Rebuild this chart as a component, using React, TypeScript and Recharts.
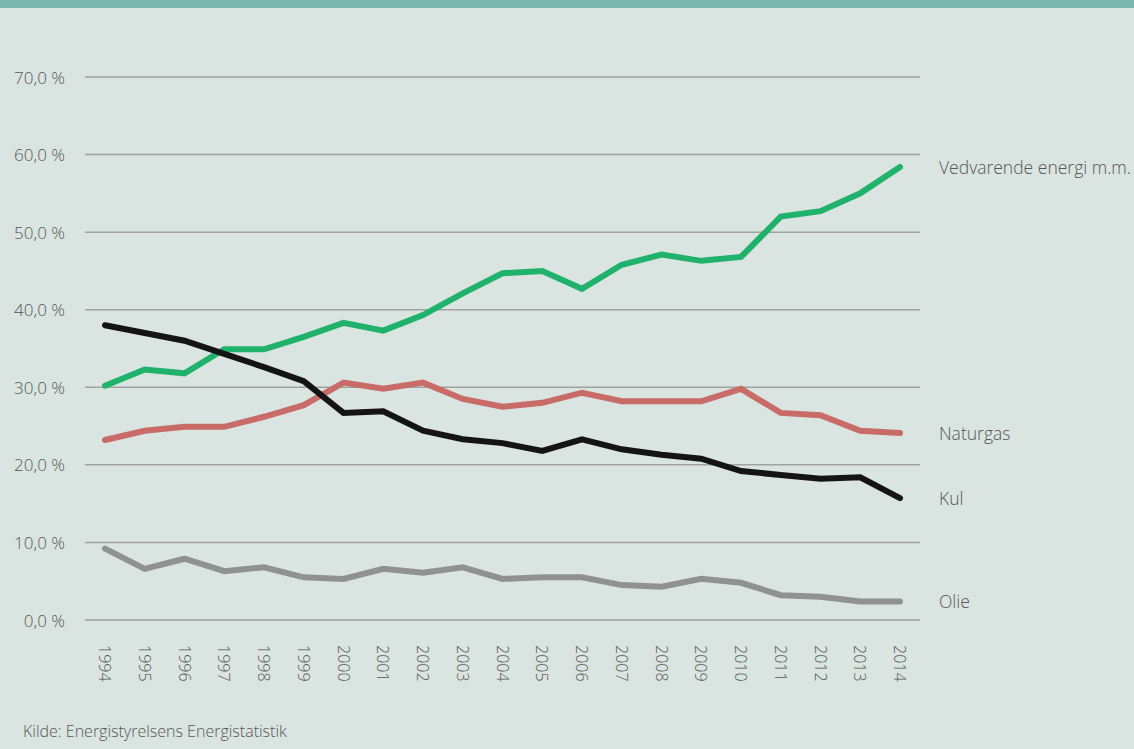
import React from "react";
import {
  LineChart,
  Line,
  XAxis,
  YAxis,
  CartesianGrid,
} from "recharts";

const years = [
  1994, 1995, 1996, 1997, 1998, 1999, 2000, 2001, 2002, 2003, 2004,
  2005, 2006, 2007, 2008, 2009, 2010, 2011, 2012, 2013, 2014,
];

const vedvarende = [
  30.2, 32.3, 31.8, 34.9, 34.9, 36.5, 38.3, 37.3, 39.3, 42.1, 44.7,
  45.0, 42.7, 45.8, 47.1, 46.3, 46.8, 52.0, 52.7, 55.0, 58.4,
];
const naturgas = [
  23.2, 24.4, 24.9, 24.9, 26.2, 27.7, 30.6, 29.8, 30.6, 28.5, 27.5,
  28.0, 29.3, 28.2, 28.2, 28.2, 29.8, 26.7, 26.4, 24.4, 24.1,
];
const kul = [
  38.0, 37.0, 36.0, 34.3, 32.6, 30.8, 26.7, 26.9, 24.4, 23.3, 22.8,
  21.8, 23.3, 22.0, 21.3, 20.8, 19.2, 18.7, 18.2, 18.4, 15.7,
];
const olie = [
  9.2, 6.6, 7.9, 6.3, 6.8, 5.5, 5.3, 6.6, 6.1, 6.8, 5.3,
  5.5, 5.5, 4.5, 4.3, 5.3, 4.8, 3.2, 3.0, 2.4, 2.4,
];

const yTicks = [0, 10, 20, 30, 40, 50, 60, 70];

const series = [
  { key: "vedvarende", name: "Vedvarende energi m.m.", color: "#20b26b" },
  { key: "naturgas", name: "Naturgas", color: "#c96b66" },
  { key: "kul", name: "Kul", color: "#141414" },
  { key: "olie", name: "Olie", color: "#8f9291" },
];

const data = years.map((year, i) => ({
  year,
  vedvarende: vedvarende[i],
  naturgas: naturgas[i],
  kul: kul[i],
  olie: olie[i],
}));

const font = "'Open Sans', sans-serif";
const textColor = "#555857";

const YTick = (props: any) => {
  const { y, payload } = props;
  return (
    <text
      x={65}
      y={y}
      textAnchor="end"
      dominantBaseline="central"
      fontFamily={font}
      fontWeight={300}
      fontSize={17}
      fill={textColor}
    >
      {payload.value.toFixed(1).replace(".", ",")} %
    </text>
  );
};

// x axis sits at the bottom of the plot; labels hang down, rotated
const XTick = (props: any) => {
  const { x, payload } = props;
  return (
    <text
      transform={`translate(${x},645) rotate(90)`}
      textAnchor="start"
      dominantBaseline="central"
      fontFamily={font}
      fontWeight={300}
      fontSize={16}
      fill={textColor}
    >
      {payload.value}
    </text>
  );
};

const endLabel = (name: string) => (props: any) => {
  const { x, y, index } = props;
  if (index !== years.length - 1) return null;
  return (
    <text
      key={name}
      x={x + 39}
      y={y}
      dominantBaseline="central"
      fontFamily={font}
      fontWeight={300}
      fontSize={17.5}
      fill={textColor}
    >
      {name}
    </text>
  );
};

export default function App() {
  return (
    <div
      style={{
        position: "absolute",
        left: 0,
        top: 0,
        width: 1134,
        height: 749,
        background: "#dae4e0",
        overflow: "hidden",
      }}
    >
      <div style={{ height: 8, background: "#7ab8ad" }} />
      <div style={{ position: "absolute", left: 0, top: 0 }}>
        <LineChart
          width={1134}
          height={749}
          data={data}
          margin={{ top: 77, right: 214, left: 0, bottom: 99 }}
        >
          <CartesianGrid
            vertical={false}
            stroke="#9ea39f"
            strokeWidth={1.5}
          />
          <XAxis
            dataKey="year"
            type="number"
            height={30}
            domain={[1994, 2014]}
            ticks={years}
            padding={{ left: 20, right: 20 }}
            axisLine={false}
            tickLine={false}
            tick={<XTick />}
            interval={0}
          />
          <YAxis
            width={85}
            domain={[0, 70]}
            ticks={yTicks}
            axisLine={false}
            tickLine={false}
            tick={<YTick />}
          />
          {series.map((s) => (
            <Line
              key={s.key}
              dataKey={s.key}
              type="linear"
              stroke={s.color}
              strokeWidth={6}
              strokeLinecap="round"
              strokeLinejoin="miter"
              dot={false}
              activeDot={false}
              isAnimationActive={false}
              label={endLabel(s.name)}
            />
          ))}
        </LineChart>
      </div>
      <div
        style={{
          position: "absolute",
          left: 23,
          top: 720,
          fontFamily: font,
          fontWeight: 300,
          fontSize: 16,
          color: textColor,
        }}
      >
        Kilde: Energistyrelsens Energistatistik
      </div>
    </div>
  );
}
